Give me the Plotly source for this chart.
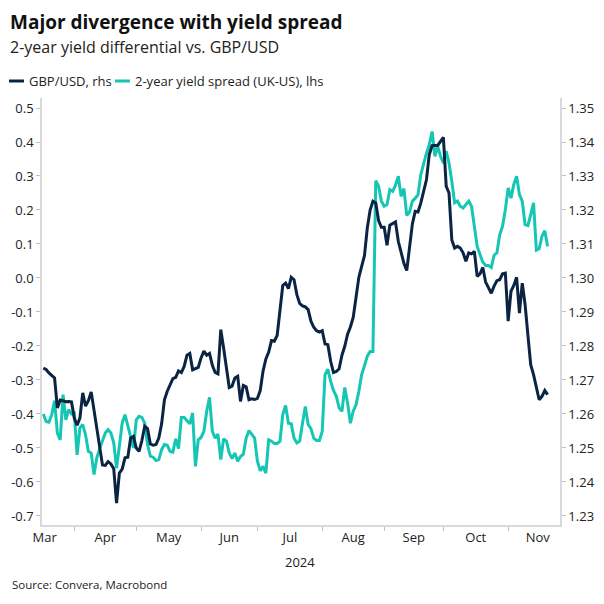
import pandas as pd
import plotly.graph_objects as go

# ---------------- data (business days, 15 Mar 2024 - 21 Nov 2024) ----------------
start_date = "2024-03-15"
end_date = "2024-11-21"
dates = pd.bdate_range(start_date, end_date)

gbpusd = [
    1.2735, 1.2731, 1.2721, 1.2713, 1.2706, 1.2618, 1.2641, 1.2639, 1.2636, 1.2637, 1.2636,
    1.2588, 1.2567, 1.2588, 1.2662, 1.2623, 1.2639, 1.2665, 1.2608, 1.2549, 1.2505,
    1.2450, 1.2449, 1.2460, 1.2453, 1.2439, 1.2338, 1.2426, 1.2438, 1.2471, 1.2473,
    1.2529, 1.2534, 1.2500, 1.2490, 1.2522, 1.2564, 1.2557, 1.2512, 1.2508, 1.2510,
    1.2529, 1.2571, 1.2642, 1.2667, 1.2684, 1.2704, 1.2708, 1.2727, 1.2722, 1.2740,
    1.2773, 1.2778, 1.2730, 1.2733, 1.2737, 1.2765, 1.2785, 1.2773, 1.2778, 1.2743,
    1.2722, 1.2718, 1.2848, 1.2794, 1.2730, 1.2678, 1.2682, 1.2706, 1.2711, 1.2637,
    1.2684, 1.2680, 1.2642, 1.2645, 1.2643, 1.2646, 1.2669, 1.2726, 1.2762, 1.2782,
    1.2816, 1.2814, 1.2831, 1.2912, 1.2978, 1.2985, 1.2969, 1.3002, 1.2995, 1.2951,
    1.2925, 1.2918, 1.2915, 1.2907, 1.2873, 1.2855, 1.2845, 1.2841, 1.2845, 1.2806,
    1.2804, 1.2755, 1.2722, 1.2725, 1.2733, 1.2773, 1.2799, 1.2835, 1.2856, 1.2884,
    1.2939, 1.3002, 1.3034, 1.3066, 1.3147, 1.3200, 1.3226, 1.3221, 1.3169, 1.3149,
    1.3149, 1.3096, 1.3155, 1.3161, 1.3165, 1.3108, 1.3071, 1.3043, 1.3022, 1.3098,
    1.3159, 1.3196, 1.3194, 1.3221, 1.3257, 1.3289, 1.3363, 1.3389, 1.3390, 1.3390,
    1.3402, 1.3414, 1.3270, 1.3250, 1.3112, 1.3088, 1.3093, 1.3088, 1.3074, 1.3049,
    1.3074, 1.3071, 1.3078, 1.3005, 1.3012, 1.3031, 1.2988, 1.2971, 1.2955, 1.2976,
    1.2992, 1.2995, 1.3012, 1.3014, 1.2873, 1.2961, 1.2978, 1.3002, 1.2897, 1.2985,
    1.2922, 1.2833, 1.2745, 1.2716, 1.2676, 1.2642, 1.2652, 1.2669, 1.2657,
]

spread_uk_us = [
    -0.400, -0.422, -0.424, -0.402, -0.361, -0.456, -0.476, -0.343, -0.417, -0.387, -0.400,
    -0.397, -0.520, -0.441, -0.431, -0.461, -0.510, -0.515, -0.578, -0.529, -0.502,
    -0.480, -0.456, -0.446, -0.456, -0.485, -0.559, -0.495, -0.427, -0.402, -0.436,
    -0.471, -0.500, -0.417, -0.407, -0.410, -0.427, -0.490, -0.524, -0.527, -0.537,
    -0.534, -0.505, -0.490, -0.492, -0.510, -0.512, -0.473, -0.502, -0.410, -0.410,
    -0.420, -0.429, -0.397, -0.554, -0.476, -0.469, -0.451, -0.392, -0.351, -0.451,
    -0.471, -0.459, -0.534, -0.473, -0.480, -0.515, -0.531, -0.515, -0.539, -0.525,
    -0.518, -0.471, -0.449, -0.459, -0.471, -0.539, -0.567, -0.554, -0.574, -0.476,
    -0.480, -0.487, -0.487, -0.480, -0.402, -0.375, -0.427, -0.429, -0.471, -0.485,
    -0.480, -0.427, -0.378, -0.431, -0.443, -0.471, -0.478, -0.478, -0.451, -0.284,
    -0.268, -0.304, -0.331, -0.348, -0.382, -0.392, -0.322, -0.368, -0.427, -0.392,
    -0.373, -0.333, -0.284, -0.258, -0.230, -0.216, -0.216, 0.286, 0.270, 0.226,
    0.211, 0.216, 0.260, 0.255, 0.273, 0.299, 0.240, 0.263, 0.184, 0.194,
    0.226, 0.234, 0.245, 0.304, 0.338, 0.367, 0.392, 0.431, 0.358, 0.387,
    0.358, 0.338, 0.373, 0.338, 0.284, 0.221, 0.226, 0.211, 0.206, 0.216,
    0.226, 0.211, 0.152, 0.093, 0.069, 0.047, 0.037, 0.037, 0.031, 0.067,
    0.074, 0.127, 0.152, 0.201, 0.265, 0.235, 0.275, 0.299, 0.245, 0.226,
    0.157, 0.154, 0.186, 0.221, 0.082, 0.086, 0.123, 0.139, 0.093,
]

assert len(dates) == len(gbpusd) == len(spread_uk_us)

# month boundary ticks (first business day) and mid-month label positions
month_starts = ["2024-04-01", "2024-05-01", "2024-06-03", "2024-07-01",
                "2024-08-01", "2024-09-02", "2024-10-01", "2024-11-01"]
month_mids = ["2024-03-15 12:00", "2024-04-16", "2024-05-16 12:00", "2024-06-17",
              "2024-07-16 12:00", "2024-08-16", "2024-09-16 12:00", "2024-10-16 12:00",
              "2024-11-15 12:00"]
month_names = ["Mar", "Apr", "May", "Jun", "Jul", "Aug", "Sep", "Oct", "Nov"]

left_ticks = [round(-0.7 + 0.1 * i, 1) for i in range(13)]
right_ticks = [round(1.23 + 0.01 * i, 2) for i in range(13)]

NAVY = "#0b2444"
TEAL = "#14c6b3"
GREY = "#d9d9d9"
TXT = "#222222"
FONT = "Open Sans"

# the page body has an 8px margin: figure origin sits at page (8, 8)
OFF = 8
W, H = 596, 596
ML, MR, MT, MB = 34, 44, 90, 79
PW, PH = W - ML - MR, H - MT - MB


def px(page_x):
    return (page_x - OFF - ML) / PW


def py(page_y):
    return (H - MB - (page_y - OFF)) / PH


fig = go.Figure()
fig.add_trace(go.Scatter(
    x=dates, y=spread_uk_us, name="2-year yield spread (UK-US), lhs",
    mode="lines", line=dict(color=TEAL, width=3), yaxis="y", showlegend=False,
))
fig.add_trace(go.Scatter(
    x=dates, y=gbpusd, name="GBP/USD, rhs",
    mode="lines", line=dict(color=NAVY, width=3), yaxis="y2", showlegend=False,
))

fig.update_layout(
    template="none",
    width=W, height=H,
    margin=dict(l=ML, r=MR, t=MT, b=MB, autoexpand=False),
    paper_bgcolor="white", plot_bgcolor="white",
    font=dict(family=FONT, size=13, color=TXT),
    xaxis=dict(
        type="date", automargin=False,
        rangebreaks=[dict(bounds=["sat", "mon"])],
        range=["2024-03-14 13:00", "2024-11-27 09:30"],
        tickmode="array", tickvals=month_mids, ticktext=month_names,
        ticks="", showgrid=False, zeroline=False,
        showline=True, linecolor=GREY, linewidth=1.5,
        minor=dict(tickmode="array", tickvals=month_starts, ticks="outside",
                   ticklen=4, tickcolor="#bfbfbf", tickwidth=1, showgrid=False),
        tickfont=dict(size=13, color=TXT),
    ),
    yaxis=dict(
        automargin=False,
        range=[-0.7265, 0.5294],
        tickmode="array", tickvals=left_ticks,
        ticktext=[f"{v:.1f}" for v in left_ticks],
        ticks="outside", ticklen=4, tickcolor="#bfbfbf",
        showgrid=False, zeroline=False,
        showline=True, linecolor=GREY, linewidth=1.5,
        tickfont=dict(size=13, color=TXT),
    ),
    yaxis2=dict(
        automargin=False,
        overlaying="y", side="right",
        range=[1.22735, 1.35294],
        tickmode="array", tickvals=right_ticks,
        ticktext=[f"{v:.2f}" for v in right_ticks],
        ticks="outside", ticklen=4, tickcolor="#bfbfbf",
        showgrid=False, zeroline=False,
        showline=True, linecolor=GREY, linewidth=1.5,
        tickfont=dict(size=13, color=TXT),
    ),
)

ann = [
    dict(text="<b>Major divergence with yield spread</b>", x=px(8), y=py(22),
         font=dict(size=19, color="#111111")),
    dict(text="2-year yield differential vs. GBP/USD", x=px(8), y=py(47),
         font=dict(size=16, color=TXT)),
    dict(text="GBP/USD, rhs", x=px(27), y=py(81), font=dict(size=13, color=TXT)),
    dict(text="2-year yield spread (UK-US), lhs", x=px(133), y=py(81),
         font=dict(size=13, color=TXT)),
    dict(text="Source: Convera, Macrobond", x=px(10), y=py(584),
         font=dict(size=11.5, color=TXT)),
]
for a in ann:
    fig.add_annotation(xref="paper", yref="paper", xanchor="left", yanchor="middle",
                       showarrow=False, **a)
fig.add_annotation(text="2024", xref="paper", yref="paper", x=px(300), y=py(562),
                   xanchor="center", yanchor="middle", showarrow=False,
                   font=dict(size=13, color=TXT))

# legend keys
fig.add_shape(type="line", xref="paper", yref="paper", x0=px(9), x1=px(24),
              y0=py(81), y1=py(81), line=dict(color=NAVY, width=3))
fig.add_shape(type="line", xref="paper", yref="paper", x0=px(115), x1=px(130),
              y0=py(81), y1=py(81), line=dict(color=TEAL, width=3))

fig.write_html("out.html")
